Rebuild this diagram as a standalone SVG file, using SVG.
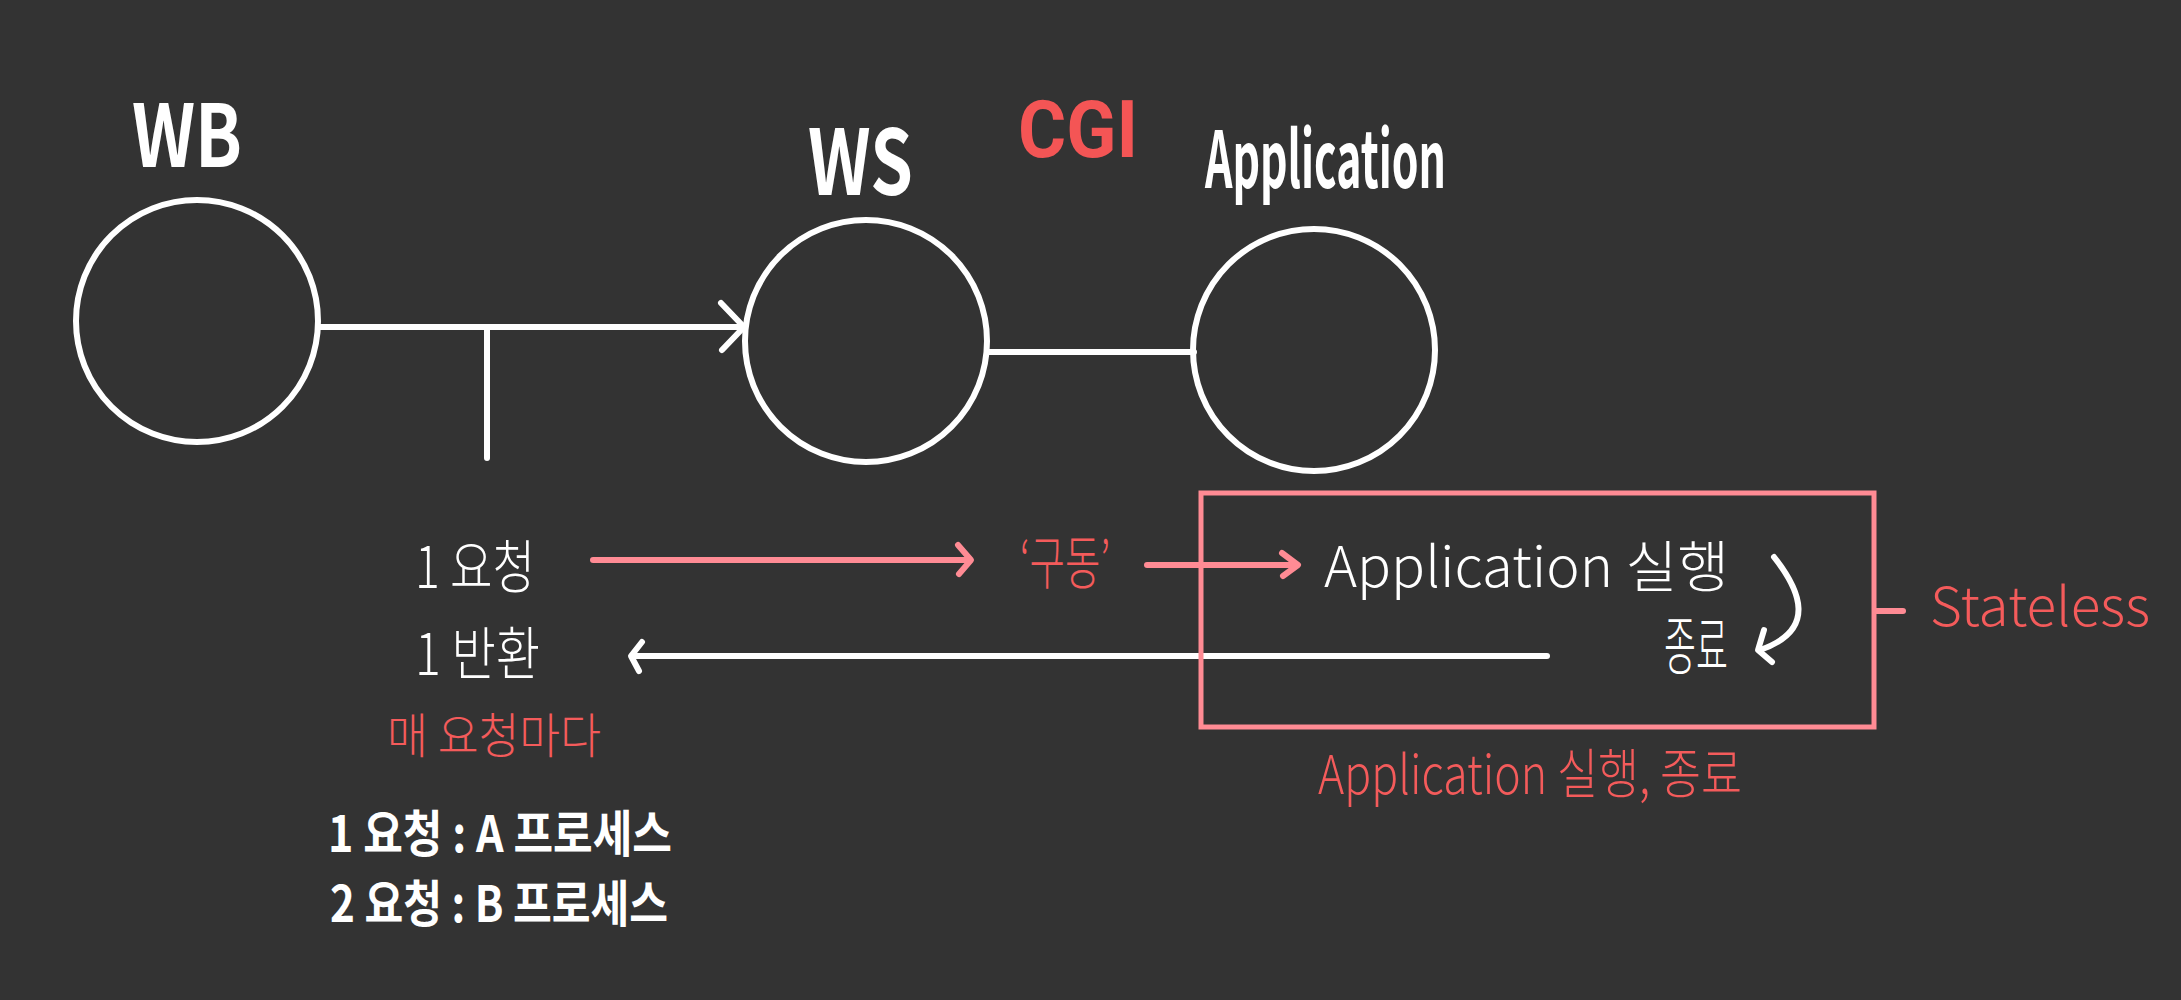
<svg xmlns="http://www.w3.org/2000/svg" width="2181" height="1000" viewBox="0 0 2181 1000">
  <style>
    .bg { fill: #333333; }
    .node { fill: none; stroke: #ffffff; stroke-width: 6; }
    .wline { fill: none; stroke: #ffffff; stroke-width: 6; stroke-linecap: round; stroke-linejoin: round; }
    .pline { fill: none; stroke: #ff8b94; stroke-width: 6; stroke-linecap: round; stroke-linejoin: round; }
    .box { fill: none; stroke: #ff8b94; stroke-width: 5; }
    .title { font-family: "Noto Sans CJK KR", "Noto Sans", sans-serif; font-weight: 700; fill: #ffffff; }
    .thin { font-family: "Noto Sans CJK KR", "Noto Sans", sans-serif; font-weight: 300; fill: #ffffff; }
    .thinred { font-family: "Noto Sans CJK KR", "Noto Sans", sans-serif; font-weight: 300; fill: #f45b5b; }
    .boldw { font-family: "Noto Sans CJK KR", "Noto Sans", sans-serif; font-weight: 700; fill: #ffffff; }
  </style>
  <rect class="bg" x="0" y="0" width="2181" height="1000"/>

  <g id="connectors">
    <line class="wline" x1="318" y1="327" x2="743" y2="327"/>
    <polyline class="wline" points="721,303 744,327 722,350"/>
    <line class="wline" x1="487" y1="327" x2="487" y2="458"/>
    <line class="wline" x1="987" y1="352" x2="1194" y2="352"/>
    <line class="pline" x1="593" y1="560" x2="969" y2="560"/>
    <polyline class="pline" points="958,545 971,560 959,574"/>
    <line class="pline" x1="1147" y1="565" x2="1296" y2="565"/>
    <polyline class="pline" points="1282,553 1298,565 1283,576"/>
    <line class="wline" x1="1547" y1="656" x2="633" y2="656"/>
    <polyline class="wline" points="642,642 631,656 639,671"/>
    <path class="wline" d="M1774,557 C1800,590 1818,630 1760,650"/>
    <polyline class="wline" points="1764,630 1758,650 1772,662"/>
    <line class="pline" x1="1876" y1="611" x2="1903" y2="611"/>
  </g>

  <g id="node-wb">
    <circle class="node" cx="197" cy="321" r="121"/>
    <text class="title" x="132" y="167" font-size="86" textLength="110" lengthAdjust="spacingAndGlyphs">WB</text>
  </g>

  <g id="node-ws">
    <circle class="node" cx="866" cy="341" r="121"/>
    <text class="title" x="808" y="195" font-size="90" textLength="105" lengthAdjust="spacingAndGlyphs">WS</text>
  </g>

  <g id="label-cgi">
    <text x="1018" y="157" font-family="Roboto, 'Liberation Sans', sans-serif" font-weight="700" font-size="80" fill="#f45555" textLength="120" lengthAdjust="spacingAndGlyphs">CGI</text>
  </g>

  <g id="node-application">
    <circle class="node" cx="1314" cy="350" r="121"/>
    <text class="title" x="1205" y="188" font-size="78" textLength="241" lengthAdjust="spacingAndGlyphs">Application</text>
  </g>

  <g id="node-process-box">
    <rect class="box" x="1201" y="493" width="673" height="234"/>
    <text class="thin" x="1324" y="587" font-size="56" textLength="405" lengthAdjust="spacingAndGlyphs">Application 실행</text>
    <text class="thin" x="1664" y="669" font-size="64" textLength="64" lengthAdjust="spacingAndGlyphs">종료</text>
  </g>

  <g id="label-stateless">
    <text class="thinred" x="1930" y="626" font-size="54" textLength="220" lengthAdjust="spacingAndGlyphs">Stateless</text>
  </g>

  <g id="label-run-end">
    <text class="thinred" x="1318" y="794" font-size="54" textLength="424" lengthAdjust="spacingAndGlyphs">Application 실행, 종료</text>
  </g>

  <g id="label-drive">
    <text class="thinred" x="1020" y="584" font-size="58" textLength="90" lengthAdjust="spacingAndGlyphs">‘구동’</text>
  </g>

  <g id="label-request">
    <text class="thin" x="415" y="588" font-size="58" textLength="120" lengthAdjust="spacingAndGlyphs">1 요청</text>
  </g>

  <g id="label-return">
    <text class="thin" x="415" y="675" font-size="58" textLength="125" lengthAdjust="spacingAndGlyphs">1 반환</text>
  </g>

  <g id="label-every">
    <text class="thinred" x="387" y="753" font-size="48" textLength="214" lengthAdjust="spacingAndGlyphs">매 요청마다</text>
  </g>

  <g id="label-processes">
    <text class="boldw" x="328" y="852" font-size="50" textLength="344" lengthAdjust="spacingAndGlyphs">1 요청 : A 프로세스</text>
    <text class="boldw" x="330" y="922" font-size="50" textLength="338" lengthAdjust="spacingAndGlyphs">2 요청 : B 프로세스</text>
  </g>
</svg>
